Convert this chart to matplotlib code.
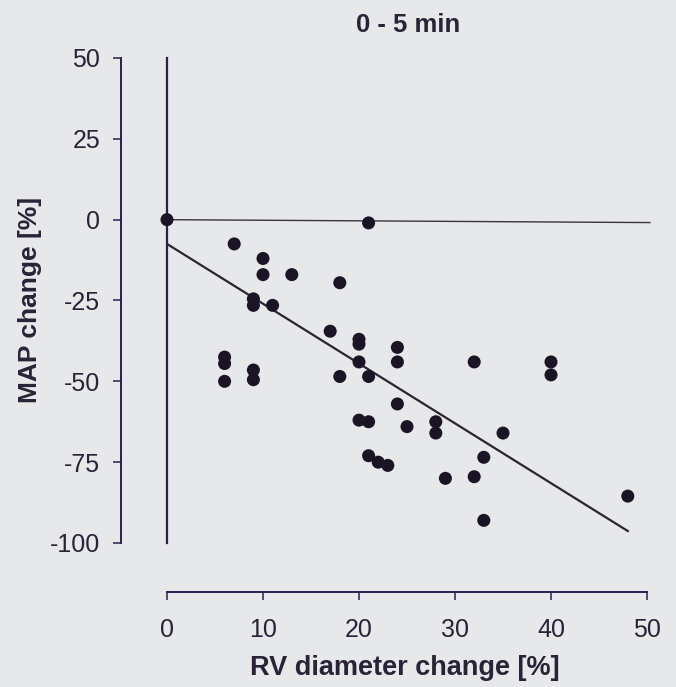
import matplotlib
matplotlib.use("Agg")
import matplotlib.pyplot as plt
import numpy as np

plt.rcParams['font.family'] = ['Liberation Sans', 'DejaVu Sans']
plt.rcParams['axes.unicode_minus'] = False

# Data
rv_change = [0, 21, 7, 10, 10, 13, 18, 9, 9, 11, 17, 20, 20, 24, 24, 20,
             6, 6, 6, 9, 9, 18, 21, 32, 40, 40, 24, 20, 21, 25, 28, 28,
             35, 21, 22, 23, 33, 29, 32, 33, 48]
map_change = [0, -1, -7.5, -12, -17, -17, -19.5, -24.5, -26.5, -26.5, -34.5,
              -37, -38.5, -39.5, -44, -44, -42.5, -44.5, -50, -46.5, -49.5,
              -48.5, -48.5, -44, -44, -48, -57, -62, -62.5, -64, -62.5, -66,
              -66, -73, -75, -76, -73.5, -80, -79.5, -93, -85.5]
fit_intercept = -7.5
fit_slope = -1.85
fit_x_range = [0, 48]

x_ticks = [0, 10, 20, 30, 40, 50]
y_ticks = [-100, -75, -50, -25, 0, 25, 50]
title = "0 - 5 min"
x_label = "RV diameter change [%]"
y_label = "MAP change [%]"

bg = '#e7e8ea'
navy = '#2b1f4c'
dot = '#1b1424'
txt = '#2a2236'

fig = plt.figure(figsize=(6.76, 6.87), dpi=100, facecolor=bg)
ax = fig.add_axes([167/676, 1-543/687, 480/676, 485/687])
ax.set_facecolor(bg)
ax.set_xlim(0, 50)
ax.set_ylim(-100, 50)

# reference lines
ax.plot([0, 0], [-100, 50], color=navy, lw=1.6, clip_on=False, zorder=2)
ax.plot([0, 50.3], [0, -0.9], color='#3a3440', lw=1.0, clip_on=False, zorder=2)

# regression line
fx = np.array(fit_x_range, dtype=float)
ax.plot(fx, fit_intercept + fit_slope * fx, color='#2a2530', lw=1.6, zorder=2)

ax.scatter(rv_change, map_change, s=88, color=dot, edgecolors='none',
           clip_on=False, zorder=3)

for s in ['top', 'right']:
    ax.spines[s].set_visible(False)
ax.spines['left'].set_position(('outward', 33))
ax.spines['bottom'].set_position(('outward', 35))
for s in ['left', 'bottom']:
    ax.spines[s].set_color(navy)
    ax.spines[s].set_linewidth(1.4)
ax.spines['left'].set_bounds(-100, 50)
ax.spines['bottom'].set_bounds(0, 50)

ax.set_xticks(x_ticks)
ax.set_yticks(y_ticks)
ax.set_xticklabels([str(v) for v in x_ticks])
ax.set_yticklabels([str(v) for v in y_ticks])
ax.tick_params(axis='both', direction='out', length=6, width=1.1,
               color=navy, labelcolor=txt, labelsize=18)
ax.tick_params(axis='x', pad=13)
ax.tick_params(axis='y', pad=9)

fig.text(408/676, 1-25/687, title, ha='center', va='center', fontsize=18.5,
         fontweight='bold', color=txt)
fig.text(405/676, 1-668/687, x_label, ha='center', va='center', fontsize=19.5,
         fontweight='bold', color=txt)
fig.text(30/676, 1-300/687, y_label, ha='center', va='center', fontsize=19,
         fontweight='bold', color=txt, rotation=90)

fig.savefig('out.png', dpi=100, facecolor=bg)
